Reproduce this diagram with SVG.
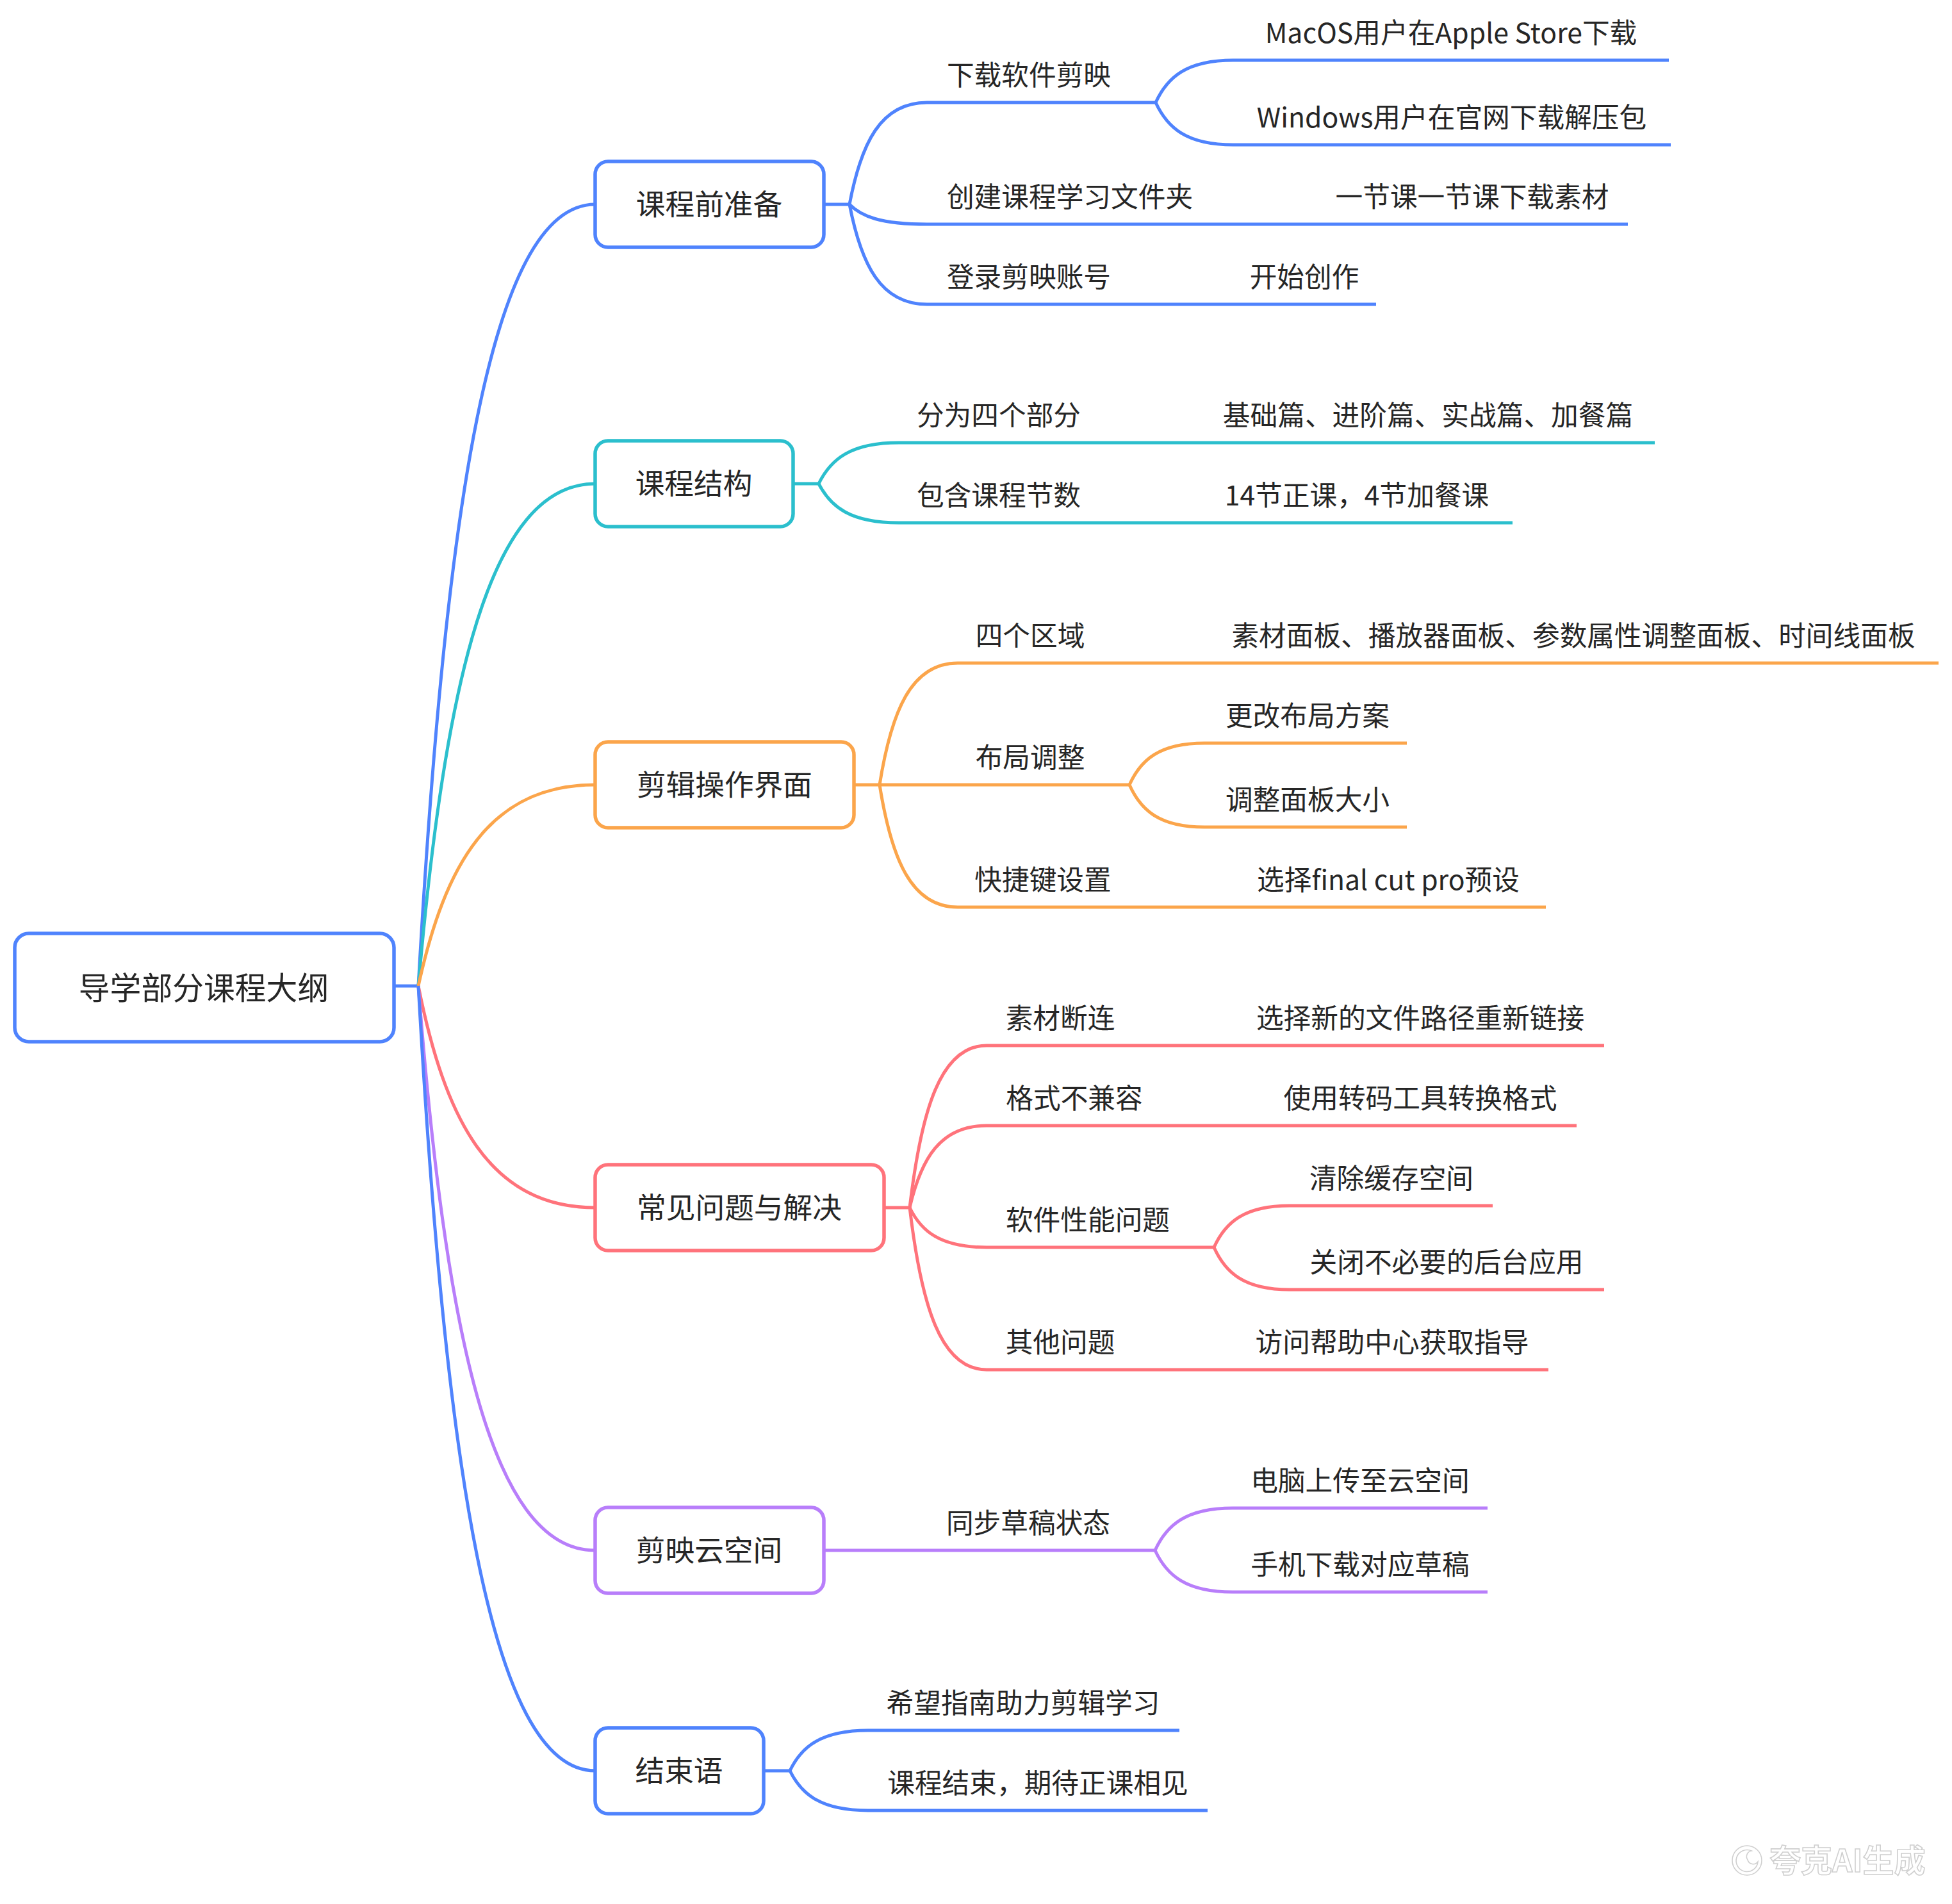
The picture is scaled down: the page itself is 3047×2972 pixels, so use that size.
<svg xmlns="http://www.w3.org/2000/svg" width="3047" height="2972" viewBox="0 0 3047 2972">
<style>
text{font-family:"Noto Sans CJK SC","Noto Sans",sans-serif;fill:#262626}
.r{font-size:48.8px}
.m{font-size:45.7px}
.s{font-size:42.7px}
.c{text-anchor:middle}
.box{fill:#fff;stroke-width:5.5}
.ln{fill:none;stroke-width:5;stroke-linecap:butt}
.blue{stroke:#4F83FD}.teal{stroke:#2BBFCD}.orange{stroke:#FBA54B}.red{stroke:#FF737B}.purple{stroke:#B87EFA}
.wm{font-family:"Noto Sans CJK SC",sans-serif;font-weight:700;font-size:49px;fill:#fff;stroke:#cfcfcf;stroke-width:1.6}
</style>
<rect width="3047" height="2972" fill="#fff"/>
<g id="connectors">
<path class="ln blue" d="M615 1539H653"/>
<path class="ln blue" d="M653 1539C694.4 806.6 763.4 319 929 319"/>
<path class="ln teal" d="M653 1539C694.4 1068.2 763.4 755 929 755"/>
<path class="ln orange" d="M653 1539C694.4 1350.2 763.4 1225 929 1225"/>
<path class="ln red" d="M653 1539C694.4 1746.2 763.4 1885 929 1885"/>
<path class="ln purple" d="M653 1539C694.4 2067.8 763.4 2420 929 2420"/>
<path class="ln blue" d="M653 1539C694.4 2274.2 763.4 2764 929 2764"/>
<path class="ln blue" d="M1286 319H1326"/>
<path class="ln blue" d="M1326 319C1344.2 223.6 1374.4 160 1447 160H1804"/>
<path class="ln blue" d="M1326 319C1344.2 337.6 1374.4 350 1447 350H2541"/>
<path class="ln blue" d="M1326 319C1344.2 412.6 1374.4 475 1447 475H2148"/>
<path class="ln blue" d="M1804 160C1822.2 120.4 1852.4 94 1925 94H2605"/>
<path class="ln blue" d="M1804 160C1822.2 199.6 1852.4 226 1925 226H2608"/>
<path class="ln teal" d="M1238 755H1278"/>
<path class="ln teal" d="M1278 755C1296.8 716.6 1328 691 1403 691H2583"/>
<path class="ln teal" d="M1278 755C1296.8 791.6 1328 816 1403 816H2361"/>
<path class="ln orange" d="M1333 1225H1763"/>
<path class="ln orange" d="M1373 1225C1391.3 1111 1421.8 1035 1495 1035H3026"/>
<path class="ln orange" d="M1373 1225C1391.3 1339.6 1421.8 1416 1495 1416H2413"/>
<path class="ln orange" d="M1763 1225C1780.6 1186 1809.8 1160 1880 1160H2196"/>
<path class="ln orange" d="M1763 1225C1780.6 1264.6 1809.8 1291 1880 1291H2196"/>
<path class="ln red" d="M1380 1885H1420"/>
<path class="ln red" d="M1420 1885C1438 1733.2 1468 1632 1540 1632H2504"/>
<path class="ln red" d="M1420 1885C1438 1808.2 1468 1757 1540 1757H2461"/>
<path class="ln red" d="M1420 1885C1438 1922.2 1468 1947 1540 1947H1895"/>
<path class="ln red" d="M1420 1885C1438 2036.8 1468 2138 1540 2138H2417"/>
<path class="ln red" d="M1895 1947C1912.7 1908 1942.2 1882 2013 1882H2330"/>
<path class="ln red" d="M1895 1947C1912.7 1986.6 1942.2 2013 2013 2013H2504"/>
<path class="ln purple" d="M1286 2420H1803"/>
<path class="ln purple" d="M1803 2420C1821.2 2380.4 1851.4 2354 1924 2354H2322"/>
<path class="ln purple" d="M1803 2420C1821.2 2459 1851.4 2485 1924 2485H2322"/>
<path class="ln blue" d="M1192 2764H1233"/>
<path class="ln blue" d="M1233 2764C1251.3 2726.2 1281.8 2701 1355 2701H1841"/>
<path class="ln blue" d="M1233 2764C1251.3 2801.2 1281.8 2826 1355 2826H1885"/>
</g>
<g id="root">
<rect class="box blue" x="23" y="1457" width="592" height="169" rx="22" stroke-width="6"/>
<text class="r c" x="318" y="1560">导学部分课程大纲</text>
</g>
<g id="n1">
<rect class="box blue" x="929" y="252" width="357" height="134" rx="20"/>
<text class="m c" x="1107" y="336">课程前准备</text>
</g>
<g id="n1-1"><text class="s c" x="1606" y="133">下载软件剪映</text></g>
<g id="n1-1-1"><text class="s c" x="2265" y="67">MacOS用户在Apple Store下载</text></g>
<g id="n1-1-2"><text class="s c" x="2266" y="199">Windows用户在官网下载解压包</text></g>
<g id="n1-2"><text class="s c" x="1670" y="323">创建课程学习文件夹</text></g>
<g id="n1-2-1"><text class="s c" x="2298" y="323">一节课一节课下载素材</text></g>
<g id="n1-3"><text class="s c" x="1606" y="448">登录剪映账号</text></g>
<g id="n1-3-1"><text class="s c" x="2036" y="448">开始创作</text></g>
<g id="n2">
<rect class="box teal" x="929" y="688" width="309" height="134" rx="20"/>
<text class="m c" x="1083" y="772">课程结构</text>
</g>
<g id="n2-1"><text class="s c" x="1559" y="664">分为四个部分</text></g>
<g id="n2-1-1"><text class="s c" x="2229" y="664">基础篇、进阶篇、实战篇、加餐篇</text></g>
<g id="n2-2"><text class="s c" x="1559" y="789">包含课程节数</text></g>
<g id="n2-2-1"><text class="s c" x="2118" y="789">14节正课，4节加餐课</text></g>
<g id="n3">
<rect class="box orange" x="929" y="1158" width="404" height="134" rx="20"/>
<text class="m c" x="1131" y="1242">剪辑操作界面</text>
</g>
<g id="n3-1"><text class="s c" x="1608" y="1008">四个区域</text></g>
<g id="n3-1-1"><text class="s c" x="2456" y="1008">素材面板、播放器面板、参数属性调整面板、时间线面板</text></g>
<g id="n3-2"><text class="s c" x="1608" y="1198">布局调整</text></g>
<g id="n3-2-1"><text class="s c" x="2041" y="1133">更改布局方案</text></g>
<g id="n3-2-2"><text class="s c" x="2041" y="1264">调整面板大小</text></g>
<g id="n3-3"><text class="s c" x="1628" y="1389">快捷键设置</text></g>
<g id="n3-3-1"><text class="s c" x="2167" y="1389">选择final cut pro预设</text></g>
<g id="n4">
<rect class="box red" x="929" y="1818" width="451" height="134" rx="20"/>
<text class="m c" x="1154" y="1902">常见问题与解决</text>
</g>
<g id="n4-1"><text class="s c" x="1655" y="1605">素材断连</text></g>
<g id="n4-1-1"><text class="s c" x="2217" y="1605">选择新的文件路径重新链接</text></g>
<g id="n4-2"><text class="s c" x="1677" y="1730">格式不兼容</text></g>
<g id="n4-2-1"><text class="s c" x="2217" y="1730">使用转码工具转换格式</text></g>
<g id="n4-3"><text class="s c" x="1698" y="1920">软件性能问题</text></g>
<g id="n4-3-1"><text class="s c" x="2172" y="1855">清除缓存空间</text></g>
<g id="n4-3-2"><text class="s c" x="2258" y="1986">关闭不必要的后台应用</text></g>
<g id="n4-4"><text class="s c" x="1655" y="2111">其他问题</text></g>
<g id="n4-4-1"><text class="s c" x="2173" y="2111">访问帮助中心获取指导</text></g>
<g id="n5">
<rect class="box purple" x="929" y="2353" width="357" height="134" rx="20"/>
<text class="m c" x="1107" y="2437">剪映云空间</text>
</g>
<g id="n5-1"><text class="s c" x="1605" y="2393">同步草稿状态</text></g>
<g id="n5-1-1"><text class="s c" x="2123" y="2327">电脑上传至云空间</text></g>
<g id="n5-1-2"><text class="s c" x="2123" y="2458">手机下载对应草稿</text></g>
<g id="n6">
<rect class="box blue" x="929" y="2697" width="263" height="134" rx="20"/>
<text class="m c" x="1060" y="2781">结束语</text>
</g>
<g id="n6-1"><text class="s c" x="1597" y="2674">希望指南助力剪辑学习</text></g>
<g id="n6-2"><text class="s c" x="1620" y="2799">课程结束，期待正课相见</text></g>
<g id="watermark">
<circle cx="2727" cy="2904" r="23" fill="none" stroke="#cfcfcf" stroke-width="1.6"/>
<path d="M2744 2906a17 17 0 1 1 -10 -17a9 9 0 0 0 -6 14a9 9 0 0 0 16 3z" fill="none" stroke="#cfcfcf" stroke-width="1.6"/>
<text class="wm" x="2762" y="2922">夸克AI生成</text>
</g>
</svg>
